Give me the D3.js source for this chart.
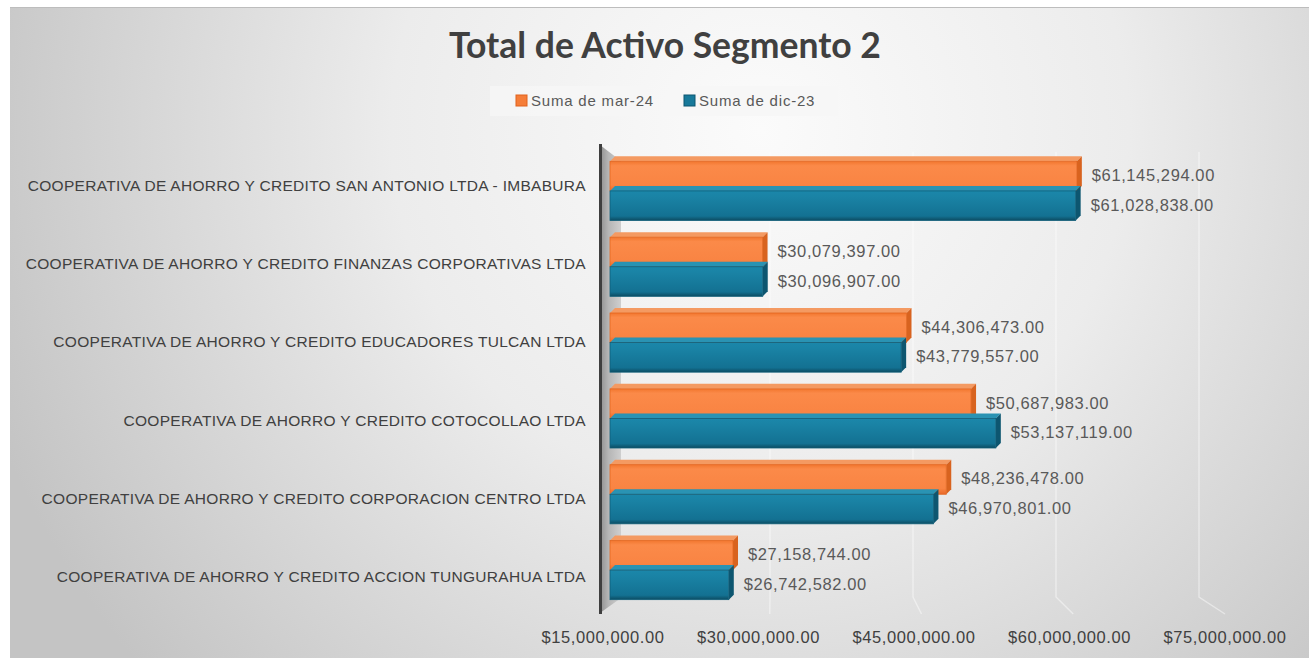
<!DOCTYPE html>
<html><head><meta charset="utf-8">
<script src="https://cdn.jsdelivr.net/npm/d3@7"></script>
<style>html,body{margin:0;padding:0;background:#fff;}svg{display:block;}</style>
</head><body>
<script>
const categories = [
  "COOPERATIVA DE AHORRO Y CREDITO SAN ANTONIO LTDA - IMBABURA",
  "COOPERATIVA DE AHORRO Y CREDITO FINANZAS CORPORATIVAS LTDA",
  "COOPERATIVA DE AHORRO Y CREDITO EDUCADORES TULCAN LTDA",
  "COOPERATIVA DE AHORRO Y CREDITO COTOCOLLAO LTDA",
  "COOPERATIVA DE AHORRO Y CREDITO CORPORACION CENTRO LTDA",
  "COOPERATIVA DE AHORRO Y CREDITO ACCION TUNGURAHUA LTDA"
];
const seriesNames = ["Suma de mar-24", "Suma de dic-23"];
const mar24 = [61145294, 30079397, 44306473, 50687983, 48236478, 27158744];
const dic23 = [61028838, 30096907, 43779557, 53137119, 46970801, 26742582];
const tickValues = [15000000, 30000000, 45000000, 60000000, 75000000];
const title = "Total de Activo Segmento 2";

const W = 1309, H = 658;
const svg = d3.select("body").append("svg").attr("width", W).attr("height", H);
const defs = svg.append("defs");

const bg = defs.append("radialGradient").attr("id","bg").attr("gradientUnits","userSpaceOnUse")
  .attr("cx",760).attr("cy",130).attr("r",820).attr("fx",760).attr("fy",130);
bg.append("stop").attr("offset","0").attr("stop-color","#fbfbfb");
bg.append("stop").attr("offset","0.45").attr("stop-color","#ececec");
bg.append("stop").attr("offset","1").attr("stop-color","#c4c4c4");

function vgrad(id, stops){
  const g = defs.append("linearGradient").attr("id",id).attr("x1",0).attr("y1",0).attr("x2",0).attr("y2",1);
  stops.forEach(s=>g.append("stop").attr("offset",s[0]).attr("stop-color",s[1]));
}
function hgrad(id, stops){
  const g = defs.append("linearGradient").attr("id",id).attr("x1",0).attr("y1",0).attr("x2",1).attr("y2",0);
  stops.forEach(s=>g.append("stop").attr("offset",s[0]).attr("stop-color",s[1]));
}
vgrad("gOr", [[0,"#f2772f"],[0.15,"#fb8a49"],[0.8,"#f98443"],[1,"#e8692a"]]);
vgrad("gTe", [[0,"#1b87aa"],[0.2,"#1a83a5"],[0.85,"#137192"],[1,"#0c4c62"]]);
hgrad("wall", [[0,"#8f8f8f"],[0.4,"#b5b5b5"],[1,"#cfcfcf"]]);

svg.append("rect").attr("x",10).attr("y",7).attr("width",W-10).attr("height",H-7).attr("fill","url(#bg)");
svg.append("line").attr("x1",10).attr("x2",W).attr("y1",7.5).attr("y2",7.5).attr("stroke","#bdbdbd").attr("stroke-width",1);

// scales
const x = d3.scaleLinear().domain([15000000, 75000000]).range([610, 1217]);
const xBack = d3.scaleLinear().domain([15000000, 75000000]).range([627, 1199]);
const xTick = d3.scaleLinear().domain([15000000, 75000000]).range([603, 1225]);
const y = d3.scaleBand().domain(categories).range([153, 608]).paddingInner(0.22).paddingOuter(0.11);
const ySub = d3.scaleBand().domain(seriesNames).range([0, y.bandwidth()]);
const yLab = d3.scalePoint().domain(categories).range([186, 577]);

// gridlines (back wall + floor)
tickValues.slice(1).forEach(v=>{
  svg.append("path")
    .attr("d", `M${xBack(v)},152 L${xBack(v)},597 L${x(v)+8},614`)
    .attr("fill","none").attr("stroke","#ffffff").attr("stroke-opacity",0.45).attr("stroke-width",1.4);
});

// wall
svg.append("path").attr("d","M600,145 L621,161 L621,598 L600,613 Z").attr("fill","url(#wall)");
svg.append("line").attr("x1",600.5).attr("x2",600.5).attr("y1",144).attr("y2",614).attr("stroke","#3e3e3e").attr("stroke-width",3);

// bars
const D = 5; // depth
const data = [];
categories.forEach((c,i)=>{
  data.push({cat:c, s:seriesNames[0], v:mar24[i]});
  data.push({cat:c, s:seriesNames[1], v:dic23[i]});
});
const colors = {
  [seriesNames[0]]: {front:"url(#gOr)", top:"#f49a62", side:"#d8631f", stroke:"#e4661f", sw:"#f57d38"},
  [seriesNames[1]]: {front:"url(#gTe)", top:"#2a93b3", side:"#0d5670", stroke:"#0f5e79", sw:"#17799a"}
};
const fmt = v => "$" + d3.format(",.2f")(v);

const bars = svg.append("g").selectAll("g").data(data).join("g");
bars.each(function(d){
  const g = d3.select(this);
  const c = colors[d.s];
  const x0 = x(15000000), x1 = x(d.v);
  const y0 = y(d.cat) + ySub(d.s), h = ySub.bandwidth();
  g.append("path").attr("d",`M${x0},${y0} L${x0+D},${y0-D} L${x1+D},${y0-D} L${x1},${y0} Z`).attr("fill",c.top);
  g.append("path").attr("d",`M${x1},${y0} L${x1+D},${y0-D} L${x1+D},${y0+h-D} L${x1},${y0+h} Z`).attr("fill",c.side);
  g.append("rect").attr("x",x0).attr("y",y0).attr("width",x1-x0).attr("height",h)
    .attr("fill",c.front).attr("stroke",c.stroke).attr("stroke-width",0.8);
  g.append("text").attr("x",x1+D+10).attr("y",y0+h/2+5)
    .attr("font-family","Liberation Sans, Arial, sans-serif").attr("font-size",16.5)
    .attr("letter-spacing",0.6).attr("fill","#595959")
    .text(fmt(d.v));
});

// category labels
svg.append("g").selectAll("text").data(categories).join("text")
  .attr("x",586).attr("y",d=>yLab(d)+5).attr("text-anchor","end")
  .attr("font-family","Liberation Sans, Arial, sans-serif").attr("font-size",15.5)
  .attr("letter-spacing",0.3).attr("fill","#404040").text(d=>d);

// x tick labels
svg.append("g").selectAll("text").data(tickValues).join("text")
  .attr("x",d=>xTick(d)).attr("y",643).attr("text-anchor","middle")
  .attr("font-family","Liberation Sans, Arial, sans-serif").attr("font-size",16.5)
  .attr("letter-spacing",0.6).attr("fill","#404040").text(d=>fmt(d));

// title
svg.append("text").attr("x",665).attr("y",58).attr("text-anchor","middle")
  .attr("font-family","Lato, 'Open Sans', sans-serif").attr("font-weight","bold").attr("font-size",35.5)
  .attr("fill","#404040").text(title);

// legend
const lg = svg.append("g");
lg.append("rect").attr("x",490).attr("y",86).attr("width",348).attr("height",30).attr("fill","#f6f6f6").attr("opacity",0.8);
const legX = [516, 684];
seriesNames.forEach((s,i)=>{
  lg.append("rect").attr("x",legX[i]).attr("y",95).attr("width",11).attr("height",11)
    .attr("fill",colors[s].sw).attr("stroke",i===0?"#e0621c":"#0d5670").attr("stroke-width",1);
  lg.append("text").attr("x",legX[i]+15).attr("y",106)
    .attr("font-family","Liberation Sans, Arial, sans-serif").attr("font-size",15)
    .attr("letter-spacing",0.8).attr("fill","#595959").text(s);
});
</script>
</body></html>
